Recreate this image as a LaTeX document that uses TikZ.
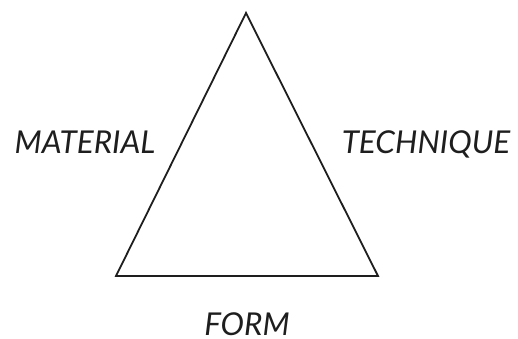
\documentclass[tikz,border=0pt]{standalone}
\usepackage{fontspec}
\setmainfont{Lato}
\definecolor{ink}{HTML}{1E1E1E}
\begin{document}
\begin{tikzpicture}[x=1pt,y=-1pt,
  lbl/.style={font=\fontsize{31.5}{31.5}\selectfont\itshape, text=ink, inner sep=0pt, anchor=base},
  edge/.style={draw=ink, line width=1.8pt, line join=miter}]
\useasboundingbox (0,0) rectangle (518,339);
\coordinate (top) at (246,13);
\coordinate (bl) at (116,276);
\coordinate (br) at (378,276);
\draw[edge] (top) -- (bl) -- (br) -- cycle;
\node[lbl] (mat) at (85,153) {MATERIAL};
\node[lbl] (tech) at (426,153) {TECHNIQUE};
\node[lbl] (form) at (247,335.5) {FORM};
\end{tikzpicture}
\end{document}
